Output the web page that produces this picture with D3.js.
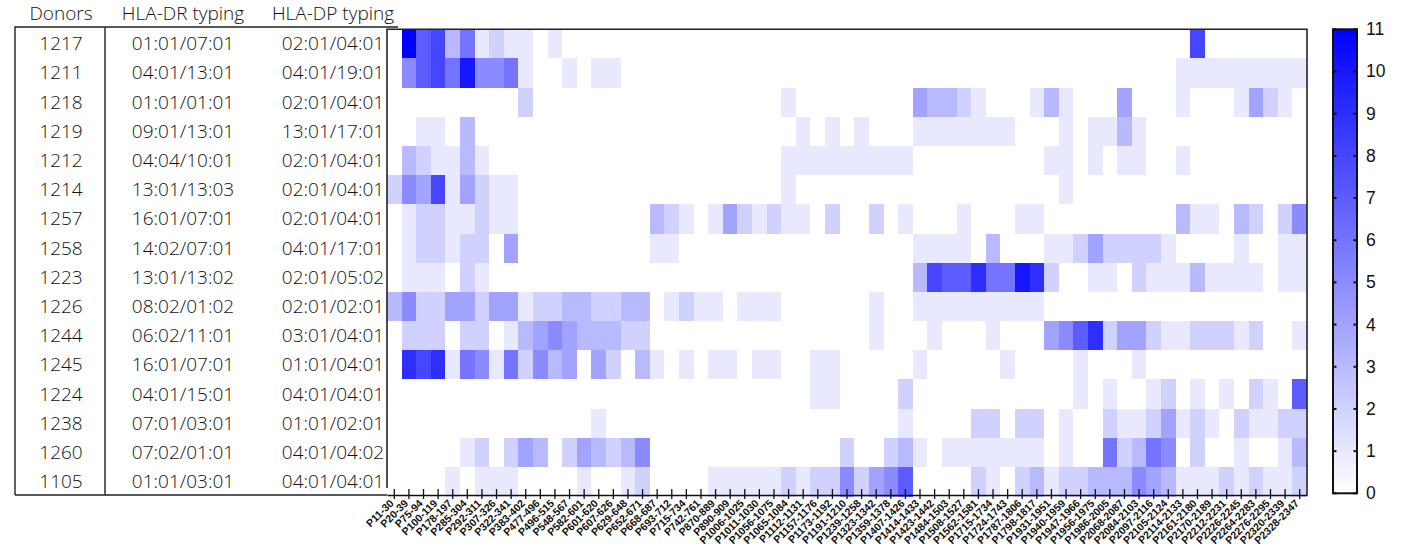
<!DOCTYPE html>
<html>
<head>
<meta charset="utf-8">
<script src="https://cdn.jsdelivr.net/npm/d3@7"></script>
<style>
  html, body { margin: 0; padding: 0; background: #ffffff; }
  svg { display: block; }
  .tbl text { font-family: "Open Sans", sans-serif; font-weight: 300; fill: #111; }
  .xax text { font-family: "Liberation Sans", Arial, sans-serif; font-weight: bold; fill: #111; }
  .cbar text { font-family: "Liberation Sans", Arial, sans-serif; fill: #111; }
</style>
</head>
<body>
<svg id="chart" width="1407" height="548"></svg>
<script>
// Donor panel
const donors = ["1217","1211","1218","1219","1212","1214","1257","1258","1223","1226","1244","1245","1224","1238","1260","1105"];
const drTyping = ["01:01/07:01","04:01/13:01","01:01/01:01","09:01/13:01","04:04/10:01","13:01/13:03","16:01/07:01","14:02/07:01","13:01/13:02","08:02/01:02","06:02/11:01","16:01/07:01","04:01/15:01","07:01/03:01","07:02/01:01","01:01/03:01"];
const dpTyping = ["02:01/04:01","04:01/19:01","02:01/04:01","13:01/17:01","02:01/04:01","02:01/04:01","02:01/04:01","04:01/17:01","02:01/05:02","02:01/02:01","03:01/04:01","01:01/04:01","04:01/04:01","01:01/02:01","04:01/04:02","04:01/04:01"];
const tableHeaders = ["Donors", "HLA-DR typing", "HLA-DP typing"];

// Peptide pools along the x axis
const peptides = ["P11-30","P20-39","P75-94","P100-119","P178-197","P285-304","P292-311","P307-326","P322-341","P383-402",
  "P477-496","P496-515","P548-567","P582-601","P601-620","P607-626","P629-648","P652-671","P668-687","P693-712",
  "P715-734","P742-761","P870-889","P890-909","P1006-1025","P1011-1030","P1056-1075","P1065-1084","P1112-1131","P1157-1176",
  "P1173-1192","P1191-1210","P1239-1258","P1323-1342","P1359-1378","P1407-1426","P1414-1433","P1423-1442","P1484-1503","P1508-1527",
  "P1562-1581","P1715-1734","P1724-1743","P1787-1806","P1798-1817","P1931-1951","P1940-1959","P1947-1966","P1956-1975","P1986-2005",
  "P2068-2087","P2084-2103","P2097-2116","P2105-2124","P2114-2133","P2161-2180","P2170-2189","P2212-2231","P2226-2245","P2264-2283",
  "P2276-2295","P2320-2339","P2328-2347"];

// Response counts, one row per donor (same order as donors), one entry per peptide pool
const counts = [
  /*1217*/ [0,11,7,8,3,6,1,2,1,1, 0,1,0,0,0,0,0,0,0,0, 0,0,0,0,0,0,0,0,0,0, 0,0,0,0,0,0,0,0,0,0, 0,0,0,0,0,0,0,0,0,0, 0,0,0,0,0,8,0,0,0,0, 0,0,0],
  /*1211*/ [0,5,7,8,6,10,5,5,6,1, 0,0,1,0,1,1,0,0,0,0, 0,0,0,0,0,0,0,0,0,0, 0,0,0,0,0,0,0,0,0,0, 0,0,0,0,0,0,0,0,0,0, 0,0,0,0,1,1,1,1,1,1, 1,1,1],
  /*1218*/ [0,0,0,0,0,0,0,0,0,2, 0,0,0,0,0,0,0,0,0,0, 0,0,0,0,0,0,0,1,0,0, 0,0,0,0,0,0,4,3,3,2, 1,0,0,0,1,3,1,0,0,0, 4,0,0,0,1,0,0,0,1,4, 2,1,0],
  /*1219*/ [0,0,1,1,0,3,0,0,0,0, 0,0,0,0,0,0,0,0,0,0, 0,0,0,0,0,0,0,0,1,0, 1,0,1,0,0,0,1,1,1,1, 1,1,1,0,0,0,1,0,1,1, 3,1,0,0,0,0,0,0,0,0, 0,0,0],
  /*1212*/ [0,3,2,1,1,3,1,0,0,0, 0,0,0,0,0,0,0,0,0,0, 0,0,0,0,0,0,0,1,1,1, 1,1,1,1,1,1,0,0,0,0, 0,0,0,0,0,1,1,0,1,0, 1,1,0,0,1,0,0,0,0,0, 0,0,0],
  /*1214*/ [2,5,4,8,1,4,2,1,1,0, 0,0,0,0,0,0,0,0,0,0, 0,0,0,0,0,0,0,1,0,0, 0,0,0,0,0,0,0,0,0,0, 0,0,0,0,0,0,1,0,0,0, 0,0,0,0,0,0,0,0,0,0, 0,0,0],
  /*1257*/ [0,1,2,2,1,1,2,1,1,0, 0,0,0,0,0,0,0,0,3,2, 1,0,1,4,2,1,2,1,1,0, 2,0,0,2,0,1,0,0,0,1, 0,0,0,1,1,0,0,0,0,0, 0,0,0,0,3,1,1,0,3,2, 0,2,5],
  /*1258*/ [0,1,2,2,1,2,2,0,4,0, 0,0,0,0,0,0,0,0,1,1, 0,0,0,0,0,0,0,0,0,0, 0,0,0,0,0,0,1,1,1,1, 0,3,0,0,0,1,1,2,4,2, 2,2,2,1,0,0,0,0,1,0, 0,1,1],
  /*1223*/ [0,1,1,1,0,2,1,0,0,0, 0,0,0,0,0,0,0,0,0,0, 0,0,0,0,0,0,0,0,0,0, 0,0,0,0,0,0,3,8,7,7, 9,6,6,10,9,2,0,0,1,1, 0,2,1,1,1,3,1,1,1,1, 0,1,1],
  /*1226*/ [3,5,2,2,4,4,2,4,4,1, 2,2,3,3,2,2,3,3,0,1, 2,1,1,0,1,1,1,0,0,0, 0,0,0,1,0,0,1,1,1,1, 1,1,1,1,1,0,0,0,0,0, 0,0,0,0,0,0,0,0,0,0, 0,0,0],
  /*1244*/ [0,2,2,2,0,2,2,0,1,3, 4,5,4,3,3,3,2,2,0,0, 0,0,0,0,0,0,0,0,0,0, 0,0,0,1,0,0,0,1,0,0, 0,1,0,0,0,4,5,7,9,2, 4,4,2,1,1,2,2,2,1,2, 0,0,1],
  /*1245*/ [0,9,8,9,1,6,5,1,6,2, 5,3,4,0,4,2,0,3,1,0, 1,0,1,1,0,1,1,0,0,1, 1,0,0,0,0,0,1,0,0,0, 0,0,1,0,0,0,0,1,0,0, 0,1,0,0,0,0,0,0,0,0, 0,0,0],
  /*1224*/ [0,0,0,0,0,0,0,0,0,0, 0,0,0,0,0,0,0,0,0,0, 0,0,0,0,0,0,0,0,0,1, 1,0,0,0,0,2,0,0,0,0, 0,0,0,0,0,0,0,1,0,1, 0,0,1,2,0,1,0,1,0,2, 1,0,7],
  /*1238*/ [0,0,0,0,0,0,0,0,0,0, 0,0,0,0,1,0,0,0,0,0, 0,0,0,0,0,0,0,0,0,0, 0,0,0,0,0,1,0,0,0,0, 2,2,0,2,2,0,1,0,0,2, 1,1,2,4,1,2,1,0,2,1, 1,2,2],
  /*1260*/ [0,0,0,0,0,1,2,0,2,4, 3,0,2,4,3,2,3,5,0,0, 0,0,0,0,0,0,0,0,0,0, 0,2,0,0,2,3,1,0,1,1, 1,1,1,1,1,0,1,0,0,6, 2,3,6,5,0,2,0,0,1,0, 0,1,3],
  /*1105*/ [0,0,0,0,1,0,1,1,1,0, 0,0,0,1,0,0,1,2,0,0, 0,0,1,1,1,1,1,2,1,2, 2,5,2,4,5,7,0,0,0,0, 2,1,0,2,3,1,2,2,3,3, 3,5,4,3,1,1,1,2,1,2, 1,1,2]
];

// Colour bar ticks
const legendTicks = [0,1,2,3,4,5,6,7,8,9,10,11];
const legendMax = 11;

const svg = d3.select("#chart");

// Heat map geometry
const plot = { left: 387, right: 1307, top: 29.2, bottom: 496.2 };
const x = d3.scaleBand().domain(peptides).range([plot.left, plot.right]);
const y = d3.scaleBand().domain(donors).range([plot.top, plot.bottom]);
const color = d3.scaleLinear().domain([0, legendMax]).range(["#ffffff", "#0000ff"]);

// Cells
const cells = [];
counts.forEach((row, i) => row.forEach((v, j) => cells.push({ donor: donors[i], pep: peptides[j], v })));
svg.append("g")
  .selectAll("rect")
  .data(cells)
  .join("rect")
  .attr("x", d => x(d.pep))
  .attr("y", d => y(d.donor))
  .attr("width", x.bandwidth() + 0.4)
  .attr("height", y.bandwidth() + 0.4)
  .attr("fill", d => color(d.v))
  .attr("shape-rendering", "crispEdges");

// Frame: top, left and right edges
svg.append("path")
  .attr("d", `M${plot.left},488 V${plot.top} H${plot.right} V495`)
  .attr("fill", "none")
  .attr("stroke", "#222")
  .attr("stroke-width", 1.6);

// X axis with ticks crossing the axis line
const axisY = 495;
const xAxis = svg.append("g")
  .attr("class", "xax")
  .attr("transform", `translate(0,${axisY})`)
  .call(d3.axisBottom(x).tickSizeOuter(0).tickSizeInner(4).tickPadding(2));
xAxis.select(".domain").attr("stroke", "#111").attr("stroke-width", 1.6);
xAxis.selectAll(".tick line").attr("y1", -6).attr("y2", 4).attr("stroke", "#111").attr("stroke-width", 1.3);
xAxis.selectAll(".tick text")
  .attr("font-size", 10.6)
  .attr("text-anchor", "end")
  .attr("dy", null)
  .attr("y", 0)
  .attr("transform", "translate(0,9) rotate(-45)");

// Donor table
const tbl = svg.append("g").attr("class", "tbl");
const colX = [61, 183, 333];
const tableLeft = 15, tableDiv = 105, tableTop = 27, tableBottom = 495;
tbl.selectAll("text.hdr")
  .data(tableHeaders)
  .join("text")
  .attr("class", "hdr")
  .attr("x", (d, i) => colX[i])
  .attr("y", 20)
  .attr("text-anchor", "middle")
  .attr("font-size", 19)
  .text(d => d);

const columns = [donors, drTyping, dpTyping];
columns.forEach((col, ci) => {
  tbl.append("g").selectAll("text")
    .data(col)
    .join("text")
    .attr("x", colX[ci])
    .attr("y", (d, i) => y(donors[i]) + y.bandwidth() / 2 + 6.5)
    .attr("text-anchor", "middle")
    .attr("font-size", 19)
    .text(d => d);
});

tbl.append("path")
  .attr("d", `M${tableLeft},${tableBottom} V${tableTop} H398 M${tableDiv},${tableTop} V${tableBottom} M${tableLeft},${tableBottom} H${plot.left}`)
  .attr("fill", "none")
  .attr("stroke", "#222")
  .attr("stroke-width", 1.4);

// Colour bar
const cb = { x: 1333, w: 24 };
const cy = d3.scaleLinear().domain([0, legendMax]).range([493.3, 29.3]);
const defs = svg.append("defs");
const grad = defs.append("linearGradient")
  .attr("id", "cbGrad")
  .attr("x1", 0).attr("y1", 1).attr("x2", 0).attr("y2", 0);
grad.selectAll("stop")
  .data([0, legendMax])
  .join("stop")
  .attr("offset", d => d / legendMax)
  .attr("stop-color", d => color(d));

const cbar = svg.append("g").attr("class", "cbar");
cbar.append("rect")
  .attr("x", cb.x).attr("y", cy(legendMax))
  .attr("width", cb.w).attr("height", cy(0) - cy(legendMax))
  .attr("fill", "url(#cbGrad)")
  .attr("stroke", "#111")
  .attr("stroke-width", 2);
cbar.selectAll("line.l")
  .data(legendTicks)
  .join("line")
  .attr("x1", cb.x).attr("x2", cb.x + 3.5)
  .attr("y1", d => cy(d)).attr("y2", d => cy(d))
  .attr("stroke", "#111").attr("stroke-width", 2);
cbar.selectAll("line.r")
  .data(legendTicks)
  .join("line")
  .attr("x1", cb.x + cb.w - 3.5).attr("x2", cb.x + cb.w)
  .attr("y1", d => cy(d)).attr("y2", d => cy(d))
  .attr("stroke", "#111").attr("stroke-width", 2);
cbar.selectAll("text")
  .data(legendTicks)
  .join("text")
  .attr("x", 1366)
  .attr("y", d => cy(d) + 6)
  .attr("font-size", 17.5)
  .text(d => d);
</script>
</body>
</html>
